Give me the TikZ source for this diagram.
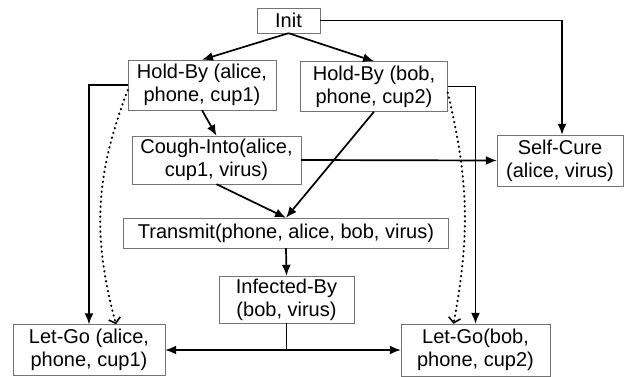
\documentclass[tikz,border=0pt]{standalone}
\usepackage{fontspec}
\setmainfont{Liberation Sans}
\usetikzlibrary{arrows,arrows.meta}

\tikzset{
  act/.style={draw=black!55, thin, fill=white, align=center, inner sep=0pt,
    font=\fontsize{20}{23}\selectfont},
  link/.style={-{Latex[length=11pt,width=9pt]}, line width=1.7pt},
  pref/.style={-{Straight Barb[length=5pt,width=12pt,line width=1.6pt]}, line width=2pt,
    line cap=round, dash pattern=on 0.6pt off 4.4pt},
}

\begin{document}
\begin{tikzpicture}[x=1pt,y=-1pt]
\useasboundingbox (0,0) rectangle (624,377);
\node [act, minimum width=63, minimum height=25] (init) at (288.5,20.5) {Init};
\node [act, minimum width=148, minimum height=50] (holdA) at (202,85) {Hold-By (alice,\\phone, cup1)};
\node [act, minimum width=147, minimum height=50] (holdB) at (374,86.5) {Hold-By (bob,\\phone, cup2)};
\node [act, minimum width=169, minimum height=48] (cough) at (216.5,160) {Cough-Into(alice,\\cup1, virus)};
\node [act, minimum width=126, minimum height=51] (cure) at (560,160.5) {Self-Cure\\(alice, virus)};
\node [act, minimum width=325, minimum height=30] (trans) at (286,233) {Transmit(phone, alice, bob, virus)};
\node [act, minimum width=135, minimum height=47] (infect) at (286.5,299.5) {Infected-By\\(bob, virus)};
\node [act, minimum width=152, minimum height=51] (letA) at (89,350) {Let-Go (alice,\\phone, cup1)};
\node [act, minimum width=149, minimum height=52] (letB) at (475.5,350) {Let-Go(bob,\\phone, cup2)};
\coordinate (split) at (infect.south |- letA.east);

\draw [link] (init.south) -- (holdA.north);
\draw [link] (init.south) -- (holdB.north);
\draw [link] (init.east) -| ([xshift=2]cure.north);
\draw [link] (holdA.south) -- (cough.north);
\draw [link] (holdB.south) -- (trans.north);
\draw [link] (cough.south) -- (trans.north);
\draw [link] (cough.east) -- (cure.west);
\draw [link] (trans.south) -- (infect.north);
\draw [line width=1.7pt] (infect.south) -- (split);
\draw [link] (split) -- (letA.east);
\draw [link] (split) -- (letB.west);
\draw [link] (holdA.west) -| (letA.north);
\draw [link] (holdB.east) -| (letB.north);
\draw [pref] ([yshift=-5]holdA.west) to [bend right=18] ([xshift=27]letA.north);
\draw [pref] ([yshift=-6]holdB.east) to [bend left=12] ([xshift=-22]letB.north);
\end{tikzpicture}
\end{document}
